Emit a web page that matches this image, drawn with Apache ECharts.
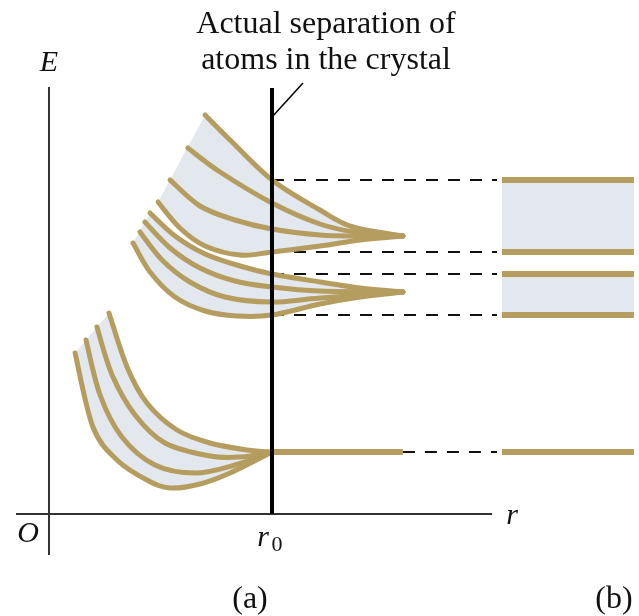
<!DOCTYPE html>
<html>
<head>
<meta charset="utf-8">
<script src="https://cdn.jsdelivr.net/npm/echarts@6/dist/echarts.min.js"></script>
<style>
html,body{margin:0;padding:0;background:#fff;}
#chart{width:639px;height:616px;}
</style>
</head>
<body>
<div id="chart"></div>
<script>
// ---- Data: r in units where r0 = 10, E in arbitrary units ----
const upper1 = [[7.00,39.9],[8.12,37.4],[10,33.4],[12.15,30.4],[13.63,28.7],[15.87,27.8]];
const upper2 = [[6.23,36.6],[7.67,34.2],[10,31.1],[12.15,29.0],[13.95,28.1],[15.87,27.8]];
const upper3 = [[5.43,33.4],[6.77,30.8],[8.34,29.4],[10,28.5],[12.15,27.9],[13.95,27.8],[15.87,27.8]];
const upper4 = [[4.89,31.2],[5.87,28.6],[7.00,26.8],[8.57,25.9],[10,26.2],[12.15,26.8],[13.95,27.4],[15.87,27.8]];

const lower1 = [[4.53,30.1],[5.65,27.8],[7.00,26.0],[8.57,24.8],[10,24.0],[12.15,23.2],[13.95,22.6],[15.87,22.2]];
const lower2 = [[4.30,29.2],[5.43,26.6],[6.77,24.6],[8.34,23.3],[10,22.7],[12.15,22.3],[15.87,22.2]];
const lower3 = [[4.08,28.2],[5.07,25.4],[6.32,23.2],[7.89,21.7],[10,21.2],[12.15,21.6],[15.87,22.2]];
const lower4 = [[3.77,27.1],[4.53,24.2],[5.65,21.7],[7.00,20.3],[8.43,19.8],[10,19.9],[12.15,21.0],[13.95,21.7],[15.87,22.2]];

const bottom1 = [[2.69,20.1],[3.50,14.7],[4.39,11.1],[5.74,8.4],[7.22,7.1],[8.88,6.4],[10,6.2]];
const bottom2 = [[2.15,18.7],[2.83,13.9],[3.86,9.9],[5.20,7.1],[7.22,5.8],[8.57,5.7],[10,6.2]];
const bottom3 = [[1.66,17.4],[2.29,11.9],[3.27,7.7],[4.75,4.9],[6.55,4.1],[8.34,4.9],[10,6.2]];
const bottom4 = [[1.17,16.1],[1.97,8.7],[3.05,5.4],[4.39,3.4],[5.43,2.6],[6.77,3.0],[8.12,4.1],[10,6.2]];
const bottomTail = [[10,6.2],[15.87,6.2]];

// band edges in the crystal (panel b) and dashed guide lines
const crystalLevels = [33.4, 26.2, 24.0, 19.9, 6.2];
const dashStarts = [10, 10, 10, 10, 15.87];
const dashEnd = 20.09;
const crystalR = [20.31, 26.23];
const crystalBands = [[33.4, 26.2], [24.0, 19.9]];

// axes and r0 marker
const eAxis = [[0,-4.1],[0,42.7]];
const rAxis = [[-1.48,0],[19.87,0]];
const r0Line = [[10,0],[10,42.6]];
const pointer = [[10,39.7],[11.39,43.1]];

const GOLD = '#b59d5f';
const FILL = '#e3e7ee';
const SERIF = '"Liberation Serif", "DejaVu Serif", serif';

// Catmull-Rom -> cubic Bezier path segments through pixel points
function bezSegs(p) {
  let d = '';
  for (let i = 0; i < p.length - 1; i++) {
    const p0 = p[i - 1] || p[i], p1 = p[i], p2 = p[i + 1], p3 = p[i + 2] || p[i + 1];
    const c1x = p1[0] + (p2[0] - p0[0]) / 6, c1y = p1[1] + (p2[1] - p0[1]) / 6;
    const c2x = p2[0] - (p3[0] - p1[0]) / 6, c2y = p2[1] - (p3[1] - p1[1]) / 6;
    d += ' C' + c1x + ' ' + c1y + ' ' + c2x + ' ' + c2y + ' ' + p2[0] + ' ' + p2[1];
  }
  return d;
}

function fillSeries(top, bottom) {
  return {
    type: 'custom', z: 1, silent: true, animation: false,
    data: [[0, 0]],
    renderItem: function (params, api) {
      const a = top.map(p => api.coord(p));
      const b = bottom.slice().reverse().map(p => api.coord(p));
      const d = 'M' + a[0][0] + ' ' + a[0][1] + bezSegs(a) +
        ' L' + b[0][0] + ' ' + b[0][1] + bezSegs(b) + ' Z';
      return { type: 'path', shape: { pathData: d }, style: { fill: FILL, stroke: 'none' } };
    }
  };
}
function curve(data, width, cap) {
  return {
    type: 'custom', z: 3, silent: true, animation: false,
    data: [[0, 0]],
    renderItem: function (params, api) {
      const a = data.map(p => api.coord(p));
      const d = 'M' + a[0][0] + ' ' + a[0][1] + bezSegs(a);
      return { type: 'path', shape: { pathData: d },
        style: { fill: 'none', stroke: GOLD, lineWidth: width || 5, lineCap: cap || 'round', lineJoin: 'round' } };
    }
  };
}
function plain(data, color, width, z) {
  return {
    type: 'line', data: data, symbol: 'none', z: z || 2, silent: true, animation: false,
    lineStyle: { color: color, width: width }
  };
}

const series = [];
series.push(fillSeries(upper1, upper4));
series.push(fillSeries(lower1, lower4));
series.push(fillSeries(bottom1, bottom4));
crystalBands.forEach(b => {
  series.push(fillSeries([[crystalR[0], b[0]], [crystalR[1], b[0]]], [[crystalR[0], b[1]], [crystalR[1], b[1]]]));
});

series.push(plain(eAxis, '#333', 2, 2));
series.push(plain(rAxis, '#333', 2, 2));
series.push(plain(r0Line, '#000', 4, 4));
series.push(plain(pointer, '#000', 1.5, 4));

crystalLevels.forEach((lv, i) => {
  series.push({
    type: 'line', data: [[dashStarts[i], lv], [dashEnd, lv]], symbol: 'none', z: 2,
    silent: true, animation: false,
    lineStyle: { color: '#111', width: 2, type: [12, 10] }
  });
  series.push(curve([[crystalR[0], lv], [crystalR[1], lv]], 6, 'butt'));
});

[upper1, upper2, upper3, upper4, lower1, lower2, lower3, lower4,
 bottom1, bottom2, bottom3, bottom4].forEach(c => series.push(curve(c, 5)));
series.push(curve(bottomTail, 6, 'butt'));

function txt(x, y, s, font, align) {
  return { type: 'text', x: x, y: y, silent: true, z: 10,
    style: { text: s, font: font, fill: '#111', align: align || 'center', verticalAlign: 'middle' } };
}

const chart = echarts.init(document.getElementById('chart'), null, { renderer: 'canvas' });
chart.setOption({
  animation: false,
  backgroundColor: '#fff',
  grid: { left: 0, right: 0, top: 0, bottom: 0 },
  xAxis: { type: 'value', min: -2.197, max: 26.457, show: false },
  yAxis: { type: 'value', min: -10.2, max: 51.4, show: false },
  series: series,
  graphic: [
    txt(326, 25, 'Actual separation of', '32px ' + SERIF),
    txt(326, 61, 'atoms in the crystal', '32px ' + SERIF),
    txt(49, 63, 'E', 'italic 30px ' + SERIF),
    txt(28, 534, 'O', 'italic 30px ' + SERIF),
    txt(512, 516, 'r', 'italic 30px ' + SERIF),
    txt(263, 538, 'r', 'italic 30px ' + SERIF),
    txt(277, 545, '0', '22px ' + SERIF),
    txt(250, 600, '(a)', '32px ' + SERIF),
    txt(614, 600, '(b)', '32px ' + SERIF)
  ]
});
</script>
</body>
</html>
